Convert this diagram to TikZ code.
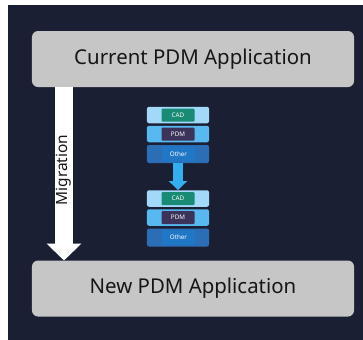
\documentclass[tikz,border=0pt]{standalone}
\usepackage{fontspec}
\setmainfont{Noto Sans}
\usetikzlibrary{arrows.meta}
\definecolor{bg}{HTML}{1B1F33}
\definecolor{appgray}{HTML}{C6C6C6}
\definecolor{apptext}{HTML}{161616}
\definecolor{cadrow}{HTML}{A2D9F9}
\definecolor{pdmrow}{HTML}{58B9F0}
\definecolor{othrow}{HTML}{2C6EB6}
\definecolor{cadin}{HTML}{198A74}
\definecolor{pdmin}{HTML}{3B3359}
\definecolor{othin}{HTML}{1F77C6}
\definecolor{smallarrow}{HTML}{33AEEF}
\tikzset{
  appbox/.style={fill=appgray, rounded corners=6bp, minimum width=322bp, minimum height=56bp,
    inner sep=0pt, text=apptext, font=\fontsize{20.5}{24}\selectfont},
  rowbox/.style={rounded corners=2bp, minimum width=62bp, minimum height=16.5bp, inner sep=0pt},
  innerbox/.style={rounded corners=1bp, minimum width=33bp, minimum height=13bp, inner sep=0pt,
    text=white, font=\fontsize{6.3}{7}\selectfont},
  bigarrow/.style={draw=white, line width=18bp, -{Triangle[width=34bp,length=17bp]}},
  smallarr/.style={draw=smallarrow, line width=10bp, -{Triangle[width=18bp,length=9bp]}},
}
\begin{document}
\begin{tikzpicture}[x=1bp,y=-1bp]
\useasboundingbox (0,0) rectangle (363,340);
\fill[bg] (8,5) rectangle (363,340);
\node[appbox] (cur) at (193,59) {Current PDM Application};
\node[appbox] (new) at (193,288.5) {New PDM Application};
\coordinate (ms) at (64,87);
\coordinate (me) at (64,260.5);
\draw[bigarrow] (ms) -- (me);
\node[rotate=90, text=apptext, font=\fontsize{15.5}{18}\selectfont] (mig) at (64,170) {Migration};
% stack 1
\node[rowbox, fill=cadrow] (c1) at (178,115) {};
\node[rowbox, fill=pdmrow] (p1) at (178,134) {};
\node[rowbox, fill=othrow, minimum height=18bp] (o1) at (178,154) {};
\node[innerbox, fill=cadin] (c1i) at (c1.center) {CAD};
\node[innerbox, fill=pdmin] (p1i) at (p1.center) {PDM};
\node[innerbox, fill=othin, minimum height=15bp] (o1i) at (178.5,154) {Other};
% stack 2
\node[rowbox, fill=cadrow] (c2) at (178,198.5) {};
\node[rowbox, fill=pdmrow] (p2) at (178,217.5) {};
\node[rowbox, fill=othrow, minimum height=18bp] (o2) at (178,237.5) {};
\node[innerbox, fill=cadin] (c2i) at (c2.center) {CAD};
\node[innerbox, fill=pdmin] (p2i) at (p2.center) {PDM};
\node[innerbox, fill=othin, minimum height=15bp] (o2i) at (178.5,237.5) {Other};
\draw[smallarr] (o1.south) -- (c2.north);
\end{tikzpicture}
\end{document}
